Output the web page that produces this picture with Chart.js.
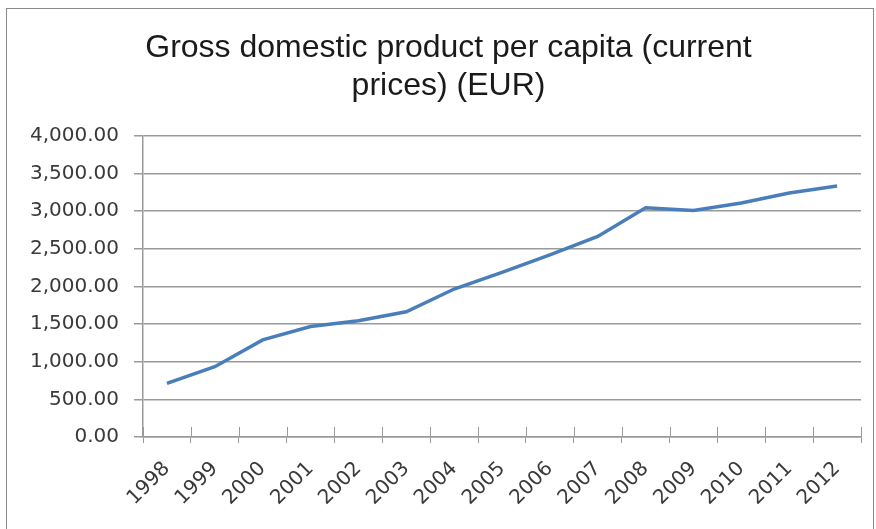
<!DOCTYPE html>
<html>
<head>
<meta charset="utf-8">
<script src="https://cdn.jsdelivr.net/npm/chart.js@4/dist/chart.umd.min.js"></script>
<style>
  html, body { margin: 0; padding: 0; background: #fff; overflow: hidden; }
  #frame { position: absolute; left: 6px; top: 8px; width: 866px; height: 540px; border: 1px solid #8a8a8a; border-bottom: none; background: #fff; }
  #wrap { position: absolute; left: 0; top: 0; width: 871px; height: 520px; }
</style>
</head>
<body>
<div id="frame"><div id="wrap"><canvas id="c"></canvas></div></div>
<script>
const titleLines = ['Gross domestic product per capita (current', 'prices) (EUR)'];
const years = ['1998','1999','2000','2001','2002','2003','2004','2005','2006','2007','2008','2009','2010','2011','2012'];
const gdpPerCapita = [712, 933, 1289, 1467, 1543, 1663, 1965, 2187, 2419, 2663, 3045, 3009, 3107, 3240, 3333];
const yMin = 0, yMax = 4000, yStep = 500;

const labelFont = { family: 'DejaVu Sans', size: 20 };
const axisGray = '#9a9a9a';
const fmt = v => v.toLocaleString('en-US', { minimumFractionDigits: 2, maximumFractionDigits: 2 });

// inner half of Excel-style "cross" tick marks on the category axis
const crossTicks = {
  id: 'crossTicks',
  afterDatasetsDraw(chart) {
    const xs = chart.scales.x, ctx = chart.ctx;
    const n = chart.data.labels.length;
    ctx.save();
    ctx.strokeStyle = axisGray;
    ctx.lineWidth = 1;
    ctx.beginPath();
    for (let i = 0; i <= n; i++) {
      const px = Math.round(xs.getPixelForValue(i - 0.5)) + 0.5;
      ctx.moveTo(px, xs.top - 10);
      ctx.lineTo(px, xs.top);
    }
    ctx.stroke();
    ctx.restore();
  }
};

new Chart(document.getElementById('c'), {
  type: 'line',
  data: {
    labels: years,
    datasets: [{
      data: gdpPerCapita,
      borderColor: '#4a7ebb',
      borderWidth: 3.5,
      pointRadius: 0,
      tension: 0,
      fill: false
    }]
  },
  plugins: [crossTicks],
  options: {
    responsive: true,
    maintainAspectRatio: false,
    animation: false,
    layout: { padding: { left: 12, right: 0, top: 0, bottom: 0 } },
    plugins: {
      legend: { display: false },
      tooltip: { enabled: false },
      title: {
        display: true,
        text: titleLines,
        color: '#1a1a1a',
        font: { family: 'Liberation Sans', size: 32, weight: 'normal', lineHeight: 1.2 },
        padding: { top: 20, bottom: 30 }
      }
    },
    scales: {
      x: {
        type: 'category',
        offset: true,
        grid: { offset: true, drawOnChartArea: false, color: axisGray, tickLength: 6, lineWidth: 1 },
        border: { color: axisGray, width: 1.5 },
        ticks: { color: '#3a3a3a', font: labelFont, minRotation: 45, maxRotation: 45, padding: 14, autoSkip: false },
        afterFit: s => { s.height = 92; }
      },
      y: {
        min: yMin, max: yMax,
        grid: { color: axisGray, tickLength: 9, lineWidth: 1.5 },
        border: { color: axisGray, width: 1.5 },
        ticks: { stepSize: yStep, color: '#3a3a3a', font: labelFont, padding: 15, callback: v => fmt(v) },
        afterFit: s => { s.width = 124; }
      },
      spacer: {
        type: 'linear',
        position: 'right',
        display: true,
        grid: { display: false, drawTicks: false },
        border: { display: false },
        ticks: { display: false },
        afterFit: s => { s.width = 17; }
      }
    }
  }
});
</script>
</body>
</html>
